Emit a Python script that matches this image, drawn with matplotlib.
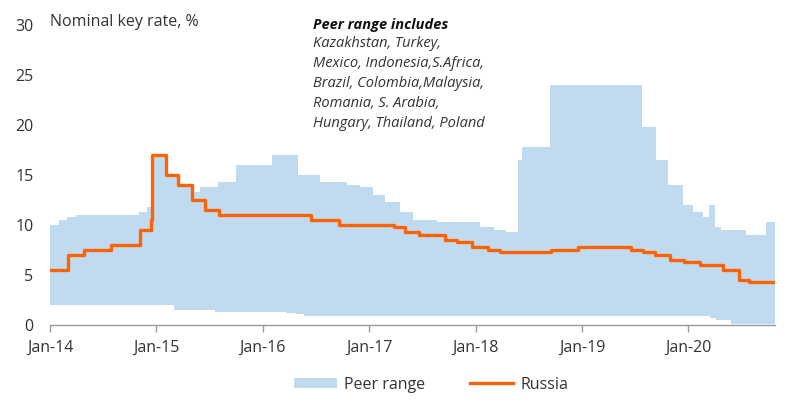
import numpy as np
import pandas as pd
import matplotlib
matplotlib.use("Agg")
import matplotlib.pyplot as plt
from matplotlib.patches import Patch
from matplotlib.lines import Line2D

# Peer range, upper bound (date of change, rate %)
upper_dates = [
    "2014-01-01", "2014-02-01", "2014-03-01", "2014-04-01", "2014-11-01",
    "2014-12-01", "2014-12-16", "2015-02-02", "2015-03-16", "2015-05-05",
    "2015-06-01", "2015-08-01", "2015-10-01", "2016-02-01", "2016-05-01",
    "2016-07-15", "2016-10-15", "2016-12-01", "2017-01-15", "2017-02-25",
    "2017-04-15", "2017-06-01", "2017-08-20", "2018-01-15", "2018-03-05",
    "2018-04-15", "2018-05-25", "2018-06-08", "2018-09-13", "2019-07-25",
    "2019-09-12", "2019-10-24", "2019-12-12", "2020-01-16", "2020-02-19",
    "2020-03-10", "2020-04-01", "2020-04-20", "2020-07-18", "2020-09-24",
]
upper_vals = [
    10.0, 10.5, 10.75, 11.0, 11.25,
    11.75, 17.0, 15.0, 14.0, 13.25,
    13.75, 14.25, 16.0, 17.0, 15.0,
    14.25, 14.0, 13.75, 13.0, 12.25,
    11.25, 10.5, 10.25, 9.75, 9.5,
    9.25, 16.5, 17.75, 24.0, 19.75,
    16.5, 14.0, 12.0, 11.25, 10.75,
    12.0, 9.75, 9.5, 9.0, 10.25,
]

# Peer range, lower bound
lower_dates = [
    "2014-01-01", "2015-03-01", "2015-07-20", "2016-03-20", "2016-04-25",
    "2016-05-20", "2020-03-15", "2020-04-05", "2020-05-25",
]
lower_vals = [2.0, 1.5, 1.3, 1.2, 1.1, 0.9, 0.7, 0.5, 0.1]

# Russia key rate
russia_dates = [
    "2014-01-01", "2014-03-03", "2014-04-28", "2014-07-28", "2014-11-05",
    "2014-12-12", "2014-12-16", "2015-02-02", "2015-03-16", "2015-05-05",
    "2015-06-16", "2015-08-03", "2016-06-14", "2016-09-19", "2017-03-27",
    "2017-05-02", "2017-06-19", "2017-09-18", "2017-10-30", "2017-12-18",
    "2018-02-12", "2018-03-26", "2018-09-17", "2018-12-17", "2019-06-17",
    "2019-07-29", "2019-09-09", "2019-10-28", "2019-12-16", "2020-02-10",
    "2020-04-27", "2020-06-22", "2020-07-27",
]
russia_vals = [
    5.5, 7.0, 7.5, 8.0, 9.5,
    10.5, 17.0, 15.0, 14.0, 12.5,
    11.5, 11.0, 10.5, 10.0, 9.75,
    9.25, 9.0, 8.5, 8.25, 7.75,
    7.5, 7.25, 7.5, 7.75, 7.5,
    7.25, 7.0, 6.5, 6.25, 6.0,
    5.5, 4.5, 4.25,
]

end_date = "2020-10-24"
xtick_dates = ["2014-01-01", "2015-01-01", "2016-01-01", "2017-01-01",
               "2018-01-01", "2019-01-01", "2020-01-01"]
xtick_labels = ["Jan-14", "Jan-15", "Jan-16", "Jan-17", "Jan-18", "Jan-19", "Jan-20"]

BLUE = "#c0dbf0"
ORANGE = "#ff6200"
TXT = "#333333"

plt.rcParams["font.family"] = ["Open Sans", "DejaVu Sans"]


def step_on(grid, dates, vals):
    idx = np.searchsorted(dates, grid, side="right") - 1
    return np.asarray(vals)[idx]


end = pd.Timestamp(end_date)
up_d = pd.to_datetime(upper_dates).values
lo_d = pd.to_datetime(lower_dates).values
grid = np.unique(np.concatenate([up_d, lo_d, [end.to_datetime64()]]))
up = step_on(grid, up_d, upper_vals)
lo = step_on(grid, lo_d, lower_vals)

ru_d = list(pd.to_datetime(russia_dates)) + [end]
ru_v = russia_vals + [russia_vals[-1]]

fig = plt.figure(figsize=(8, 4.12), dpi=100)
ax = fig.add_axes([0.0625, 0.2112, 0.90625, 0.7282])

ax.fill_between(grid, lo, up, step="post", color=BLUE, linewidth=0)
ax.step(ru_d, ru_v, where="post", color=ORANGE, linewidth=2.4, zorder=3)

ax.set_ylim(0, 30)
ax.set_xlim(pd.Timestamp("2014-01-01"), end)
ax.set_yticks(range(0, 31, 5))
ax.set_xticks(pd.to_datetime(xtick_dates))
ax.set_xticklabels(xtick_labels)

for s in ["top", "right", "left"]:
    ax.spines[s].set_visible(False)
ax.spines["bottom"].set_color("#999999")
ax.spines["bottom"].set_linewidth(1.0)
ax.tick_params(axis="y", length=0, pad=12, labelsize=11.5, labelcolor=TXT)
ax.tick_params(axis="x", length=5, width=1.0, color="#999999", pad=6,
               labelsize=11.5, labelcolor=TXT)

ax.text(0.0, 1.01, "Nominal key rate, %", transform=ax.transAxes,
        ha="left", va="center", fontsize=11.5, color=TXT)

fig.text(313 / 800, 1 - 25 / 412, "Peer range includes", ha="left", va="center",
         fontsize=10.5, fontstyle="italic", fontweight="bold", color="#111111")
fig.text(313 / 800, 1 - 36 / 412,
         "Kazakhstan, Turkey,\nMexico, Indonesia,S.Africa,\nBrazil, Colombia,Malaysia,\n"
         "Romania, S. Arabia,\nHungary, Thailand, Poland",
         ha="left", va="top", fontsize=10.5, fontstyle="italic", color=TXT,
         linespacing=1.45)

handles = [
    Patch(facecolor=BLUE, edgecolor="none"),
    Line2D([0], [0], color=ORANGE, linewidth=2.4),
]
fig.legend(handles, ["Peer range", "Russia"], loc="center",
           bbox_to_anchor=(0.539, 0.066), ncol=2, frameon=False,
           fontsize=11.5, handlelength=2.7, handleheight=0.6, handletextpad=0.45,
           columnspacing=2.8, labelcolor=TXT)

fig.savefig("out.png", dpi=100)
